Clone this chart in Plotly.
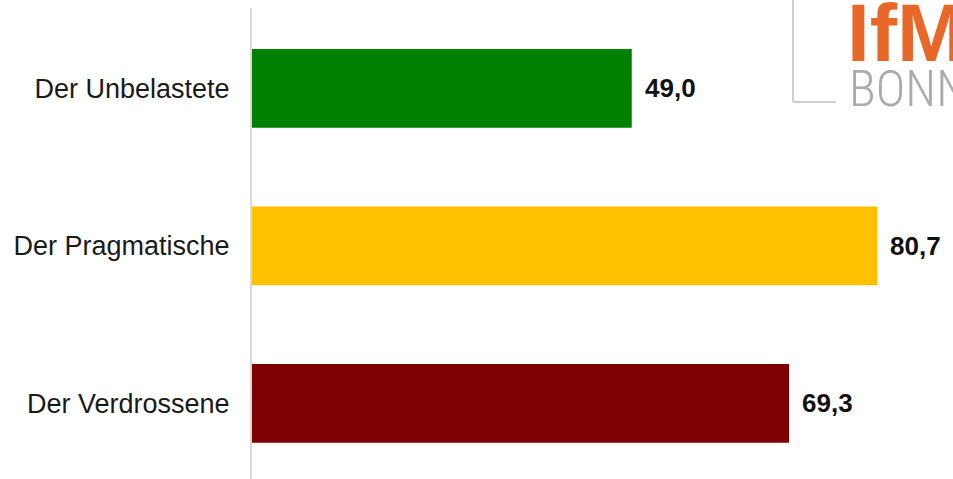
import plotly.graph_objects as go

categories = ["Der Unbelastete", "Der Pragmatische", "Der Verdrossene"]
values = [49.0, 80.7, 69.3]
colors = ["#008000", "#FFC000", "#7F0000"]
value_labels = [f"{v:.1f}".replace(".", ",") for v in values]

W, H = 953, 479
ML, MT = 252, 8
PW, PH = W - ML, H - MT

def px(x):
    return (x - ML) / PW

def py(y):
    return (H - y) / PH

fig = go.Figure()
fig.add_trace(go.Bar(
    y=categories, x=values, orientation="h",
    marker=dict(color=colors, line=dict(width=0)),
    width=0.5, hoverinfo="skip",
))

annotations = []
for c, v, t in zip(categories, values, value_labels):
    annotations.append(dict(
        x=v, y=c, xref="x", yref="y", text=t, showarrow=False,
        xanchor="left", yanchor="middle", xshift=11,
        font=dict(family="Liberation Sans", size=26, color="#111111", weight="bold"),
    ))

# Logo
annotations.append(dict(
    x=px(845), y=py(33), xref="paper", yref="paper", text="IfM", showarrow=False,
    xanchor="left", yanchor="middle",
    font=dict(family="Liberation Sans", size=82, color="#E8682A", weight="bold"),
))
annotations.append(dict(
    x=px(847), y=py(89), xref="paper", yref="paper", text="BONN", showarrow=False,
    xanchor="left", yanchor="middle",
    font=dict(family="Liberation Sans Narrow, Roboto Condensed, Roboto", size=50,
              color="#ABABAB", weight=300),
))

shapes = [
    dict(type="line", xref="paper", yref="paper", x0=px(793), x1=px(793), y0=py(-2), y1=py(102),
         line=dict(color="#CFCFCF", width=2)),
    dict(type="line", xref="paper", yref="paper", x0=px(793), x1=px(836), y0=py(102), y1=py(102),
         line=dict(color="#CFCFCF", width=2)),
]

fig.update_layout(
    width=W, height=H,
    margin=dict(l=ML, r=0, t=MT, b=0),
    paper_bgcolor="white", plot_bgcolor="white",
    showlegend=False,
    annotations=annotations,
    shapes=shapes,
    xaxis=dict(range=[0, PW / 7.75], visible=False, fixedrange=True),
    yaxis=dict(
        categoryorder="array", categoryarray=categories,
        range=[2.48, -0.51],
        showline=True, linecolor="#D9D9D9", linewidth=2,
        showgrid=False, zeroline=False, ticks="",
        ticklabelstandoff=15,
        tickfont=dict(family="Liberation Sans", size=27, color="#1a1a1a"),
    ),
)

fig.write_html("out.html")
